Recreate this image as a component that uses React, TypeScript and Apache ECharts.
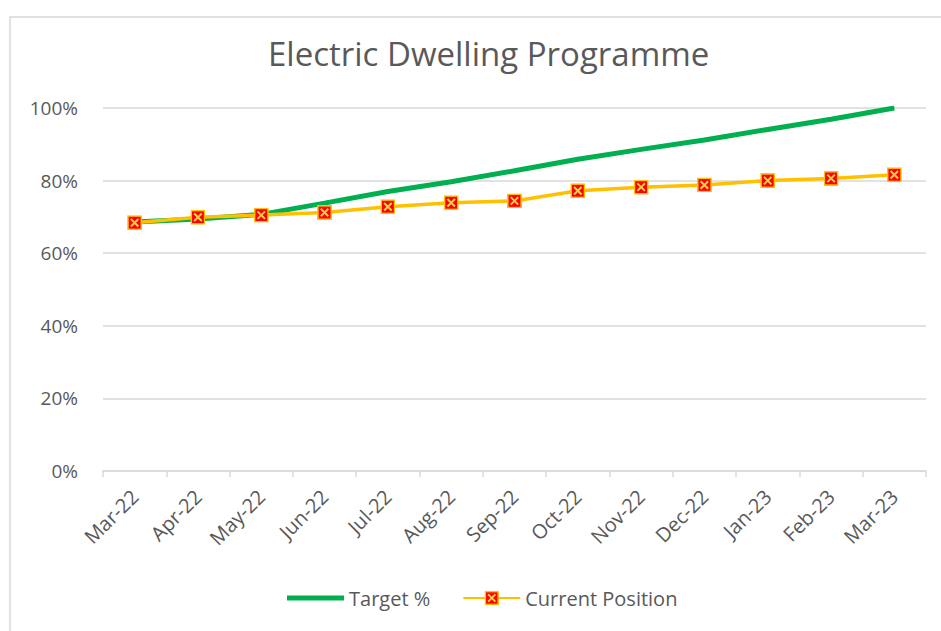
import React, { useEffect, useRef } from "react";
import * as echarts from "echarts";

const categories = ["Mar-22", "Apr-22", "May-22", "Jun-22", "Jul-22", "Aug-22", "Sep-22", "Oct-22", "Nov-22", "Dec-22", "Jan-23", "Feb-23", "Mar-23"];
const targetValues = [68.6, 69.4, 70.7, 73.8, 77.0, 79.7, 82.7, 85.9, 88.6, 91.2, 94.1, 96.9, 100];
const currentValues = [68.4, 69.9, 70.5, 71.2, 72.8, 73.9, 74.4, 77.2, 78.2, 78.8, 80.0, 80.6, 81.6];
const yTicks = [0, 20, 40, 60, 80, 100];

const markerSvg =
  '<svg xmlns="http://www.w3.org/2000/svg" width="14" height="14" viewBox="0 0 14 14">' +
  '<rect x="0.75" y="0.75" width="12.5" height="12.5" fill="#FF0000" stroke="#FFC000" stroke-width="1.5"/>' +
  '<path d="M3.5 3.5L10.5 10.5M10.5 3.5L3.5 10.5" stroke="#FFD54A" stroke-width="1.8"/>' +
  "</svg>";
const markerSymbol = "image://data:image/svg+xml;charset=utf-8," + encodeURIComponent(markerSvg);

const FONT = "'Open Sans', sans-serif";

export default function App() {
  const ref = useRef<HTMLDivElement>(null);
  useEffect(() => {
    if (!ref.current) return;
    const chart = echarts.init(ref.current, null, { renderer: "svg" });
    chart.setOption({
      animation: false,
      backgroundColor: "#ffffff",
      textStyle: { fontFamily: FONT },
      title: {
        text: "Electric Dwelling Programme",
        left: 263,
        top: 32,
        textStyle: { fontSize: 33, fontWeight: "normal", color: "#595959", fontFamily: FONT },
      },
      graphic: [
        {
          type: "rect",
          shape: { x: 10, y: 17, width: 940, height: 630 },
          style: { fill: "none", stroke: "#d9d9d9", lineWidth: 1.5 },
          silent: true,
        },
      ],
      legend: {
        left: 282,
        top: 583,
        itemWidth: 57,
        itemHeight: 18,
        itemGap: 32,
        textStyle: { fontSize: 20, color: "#595959", fontFamily: FONT },
        data: [
          { name: "Target %", icon: "path://M0 0H57V5H0Z" },
          { name: "Current Position" },
        ],
      },
      grid: { left: 103, right: 15, top: 108, bottom: 160, containLabel: false },
      xAxis: {
        type: "category",
        data: categories,
        boundaryGap: true,
        axisLine: { lineStyle: { color: "#d9d9d9", width: 1.5 } },
        axisTick: { show: true, length: 6, lineStyle: { color: "#d9d9d9", width: 1.5 } },
        axisLabel: { rotate: 45, fontSize: 20, color: "#595959", margin: 22, interval: 0, fontFamily: FONT },
      },
      yAxis: {
        type: "value",
        min: 0,
        max: 100,
        interval: 20,
        axisLine: { show: false },
        axisTick: { show: false },
        splitLine: { lineStyle: { color: "#d9d9d9", width: 1.5 } },
        axisLabel: {
          fontSize: 19,
          color: "#595959",
          margin: 25,
          fontFamily: FONT,
          formatter: (v: number) => (yTicks.includes(v) ? v + "%" : ""),
        },
      },
      series: [
        {
          name: "Target %",
          type: "line",
          data: targetValues,
          symbol: "none",
          lineStyle: { color: "#00B050", width: 5 },
          itemStyle: { color: "#00B050" },
          z: 2,
        },
        {
          name: "Current Position",
          type: "line",
          data: currentValues,
          symbol: markerSymbol,
          symbolSize: 15,
          showAllSymbol: true,
          lineStyle: { color: "#FFC000", width: 3.5 },
          itemStyle: { color: "#FF0000" },
          z: 3,
        },
      ],
    });
    return () => chart.dispose();
  }, []);
  return (
    <div
      ref={ref}
      style={{ position: "fixed", left: 0, top: 0, width: 941, height: 631 }}
    />
  );
}
